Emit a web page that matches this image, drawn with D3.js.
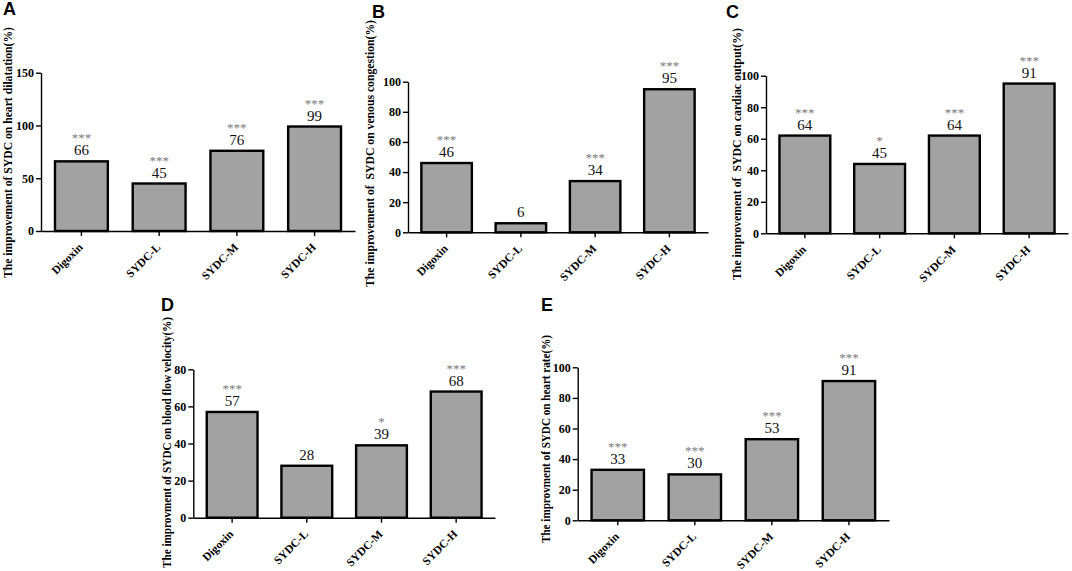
<!DOCTYPE html>
<html>
<head>
<meta charset="utf-8">
<script src="https://cdn.jsdelivr.net/npm/d3@7"></script>
<style>
  body { margin: 0; background: #fff; }
  svg text { font-family: "Liberation Serif", "Times New Roman", serif; }
  .panel-letter { font-family: "Liberation Sans", Arial, sans-serif !important; font-weight: bold; font-size: 18px; }
  .ytitle { font-weight: bold; font-size: 12px; white-space: pre; }
  .axis text { font-weight: bold; font-size: 12px; fill: #000; }
  .axis path, .axis line { stroke: #000; stroke-width: 1.4px; }
  .xlab { font-weight: bold; font-size: 11.5px; fill: #000; }
  .bar { fill: #a2a2a2; stroke: #000; stroke-width: 2.4px; }
  .val { font-size: 15px; fill: #111; text-anchor: middle; }
  .star { font-size: 13px; fill: #7a7a7a; text-anchor: middle; }
</style>
</head>
<body>
<svg id="chart" width="1072" height="571"></svg>
<script>
// groups on the x axis
const categories = ["Digoxin", "SYDC-L", "SYDC-M", "SYDC-H"];

// A - heart dilatation
const heartDilatation = [66, 45, 76, 99];
const heartDilatationStars = ["***", "***", "***", "***"];
const ticksA = [0, 50, 100, 150];

// B - venous congestion
const venousCongestion = [46, 6, 34, 95];
const venousCongestionStars = ["***", "", "***", "***"];
const ticksB = [0, 20, 40, 60, 80, 100];

// C - cardiac output (bars drawn a bit off from the printed numbers)
const cardiacOutput = [62, 44, 62, 95];
const cardiacOutputLabels = ["64", "45", "64", "91"];
const cardiacOutputStars = ["***", "*", "***", "***"];
const ticksC = [0, 20, 40, 60, 80, 100];

// D - blood flow velocity
const bloodFlowVelocity = [57, 28, 39, 68];
const bloodFlowVelocityStars = ["***", "", "*", "***"];
const ticksD = [0, 20, 40, 60, 80];

// E - heart rate
const heartRate = [33, 30, 53, 91];
const heartRateStars = ["***", "***", "***", "***"];
const ticksE = [0, 20, 40, 60, 80, 100];

const svg = d3.select("#chart");

// where each panel sits on the page
const panels = [
  { letter: "A", values: heartDilatation, labels: heartDilatation, stars: heartDilatationStars, ticks: ticksA,
    title: "The improvement of SYDC on heart dilatation(%)", titleLen: 251,
    x0: 41, x1: 355, y0: 231, yTop: 72.7, letterX: 3, letterY: 15, titleX: 12, titleY: 152.5 },
  { letter: "B", values: venousCongestion, labels: venousCongestion, stars: venousCongestionStars, ticks: ticksB,
    title: "The improvement of  SYDC on venous congestion(%)", titleLen: 267,
    x0: 408, x1: 708, y0: 232.3, yTop: 81.7, letterX: 372, letterY: 18, titleX: 374, titleY: 153.5 },
  { letter: "C", values: cardiacOutput, labels: cardiacOutputLabels, stars: cardiacOutputStars, ticks: ticksC,
    title: "The improvement of  SYDC on cardiac output(%)", titleLen: 252,
    x0: 766, x1: 1068, y0: 233.3, yTop: 75.7, letterX: 726, letterY: 18, titleX: 741, titleY: 154 },
  { letter: "D", values: bloodFlowVelocity, labels: bloodFlowVelocity, stars: bloodFlowVelocityStars, ticks: ticksD,
    title: "The improvment of SYDC on blood flow velocity(%)", titleLen: 251,
    x0: 193.3, x1: 495, y0: 517.7, yTop: 369.3, letterX: 161, letterY: 311, titleX: 171, titleY: 442.5 },
  { letter: "E", values: heartRate, labels: heartRate, stars: heartRateStars, ticks: ticksE,
    title: "The improvment of SYDC on heart rate(%)", titleLen: 208,
    x0: 577.7, x1: 889, y0: 520.3, yTop: 367.3, letterX: 541, letterY: 311, titleX: 550, titleY: 439 }
];

panels.forEach((p) => {
  const g = svg.append("g");

  const x = d3.scaleBand()
    .domain(categories)
    .range([p.x0, p.x1])
    .paddingInner(0.32)
    .paddingOuter(0.18);

  const y = d3.scaleLinear()
    .domain([0, d3.max(p.ticks)])
    .range([p.y0, p.yTop]);

  // bars
  g.selectAll(".bar")
    .data(p.values)
    .enter()
    .append("rect")
    .attr("class", "bar")
    .attr("x", (d, i) => x(categories[i]))
    .attr("width", x.bandwidth())
    .attr("y", (d) => y(d))
    .attr("height", (d) => y(0) - y(d));

  // number above each bar
  g.selectAll(".val")
    .data(p.values)
    .enter()
    .append("text")
    .attr("class", "val")
    .attr("x", (d, i) => x(categories[i]) + x.bandwidth() / 2)
    .attr("y", (d) => y(d) - 6)
    .text((d, i) => p.labels[i]);

  // significance stars
  g.selectAll(".star")
    .data(p.values)
    .enter()
    .append("text")
    .attr("class", "star")
    .attr("x", (d, i) => x(categories[i]) + x.bandwidth() / 2)
    .attr("y", (d) => y(d) - 19)
    .text((d, i) => p.stars[i]);

  // y axis
  g.append("g")
    .attr("class", "axis")
    .attr("transform", `translate(${p.x0},0)`)
    .call(d3.axisLeft(y).tickValues(p.ticks).tickSize(5).tickPadding(2).tickSizeOuter(0));

  // x axis, labels drawn separately below
  g.append("g")
    .attr("class", "axis")
    .attr("transform", `translate(0,${p.y0})`)
    .call(d3.axisBottom(x).tickSize(5).tickSizeOuter(0).tickFormat(""));

  // slanted group names
  g.selectAll(".xlab")
    .data(categories)
    .enter()
    .append("text")
    .attr("class", "xlab")
    .attr("text-anchor", "end")
    .attr("transform", (d) => `translate(${x(d) + x.bandwidth() / 2 + 2},${p.y0 + 17}) rotate(-45)`)
    .text((d) => d);

  // y title
  g.append("text")
    .attr("class", "ytitle")
    .attr("text-anchor", "middle")
    .attr("textLength", p.titleLen)
    .attr("lengthAdjust", "spacingAndGlyphs")
    .attr("transform", `translate(${p.titleX},${p.titleY}) rotate(-90)`)
    .text(p.title);

  // panel letter
  g.append("text")
    .attr("class", "panel-letter")
    .attr("x", p.letterX)
    .attr("y", p.letterY)
    .text(p.letter);
});
</script>
</body>
</html>
